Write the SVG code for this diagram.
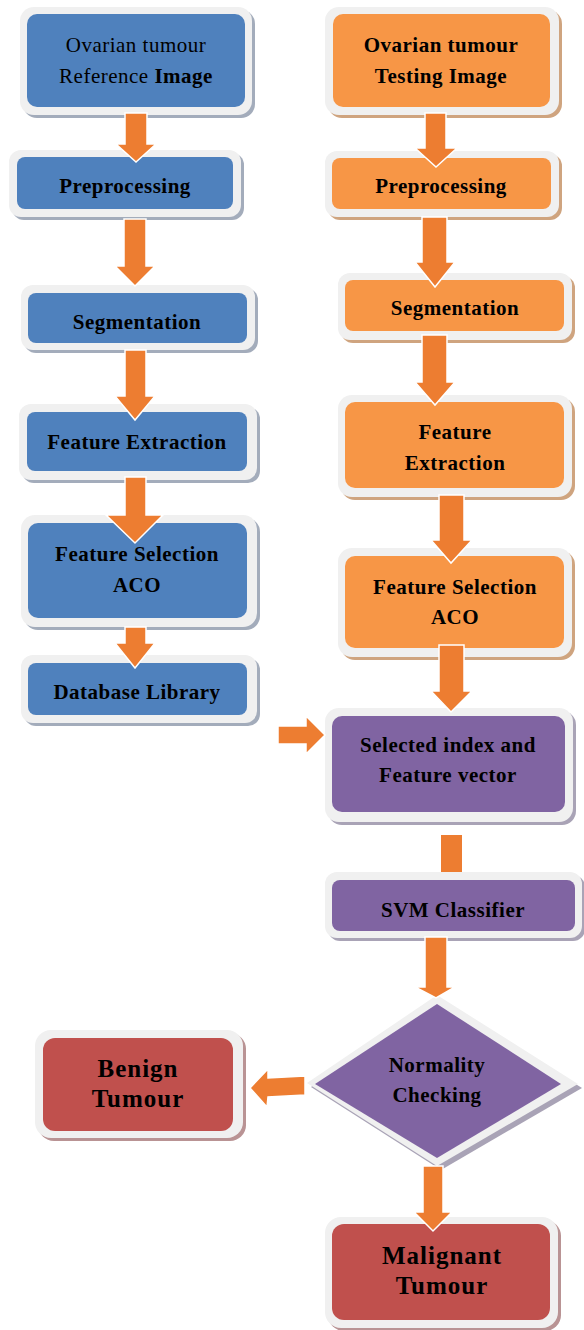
<svg xmlns="http://www.w3.org/2000/svg" width="584" height="1330" viewBox="0 0 584 1330">
<style>
.frame{fill:#f0f0f0}
.shb{fill:#a3acbb}
.sho{fill:#cfa47f}
.shp{fill:#a9a3b6}
.shr{fill:#b99394}
.blue{fill:#4f81bd}
.orange{fill:#f79646}
.purple{fill:#8064a2}
.red{fill:#c0504d}
.arr{fill:#ed7d31;stroke:#ffffff;stroke-width:1.5;stroke-linejoin:miter}
.bar{fill:#ed7d31}
text{font-family:"Liberation Serif","Times New Roman",serif;fill:#000;text-anchor:middle}
.t{font-size:21px;font-weight:bold;letter-spacing:0.5px}
.r{font-size:21px;font-weight:normal;letter-spacing:0.5px}
.big{font-size:25px;font-weight:bold;letter-spacing:1px}
</style>
<rect width="584" height="1330" fill="#ffffff"/>

<!-- Left column -->
<g id="ref-image">
<rect class="shb" x="23" y="10" width="232" height="108" rx="14"/>
<rect class="frame" x="20" y="7" width="232" height="108" rx="14"/>
<rect class="blue" x="27" y="14" width="218" height="93" rx="10"/>
<text class="r" x="136" y="52">Ovarian tumour</text>
<text class="r" x="136" y="83">Reference <tspan font-weight="bold">Image</tspan></text>
</g>
<g id="ref-preprocessing">
<rect class="shb" x="12" y="153" width="232" height="67" rx="12"/>
<rect class="frame" x="9" y="150" width="232" height="67" rx="12"/>
<rect class="blue" x="17" y="157" width="216" height="52" rx="8"/>
<text class="t" x="125" y="193">Preprocessing</text>
</g>
<g id="ref-segmentation">
<rect class="shb" x="24" y="288" width="234" height="65" rx="12"/>
<rect class="frame" x="21" y="285" width="234" height="65" rx="12"/>
<rect class="blue" x="28" y="293" width="219" height="50" rx="8"/>
<text class="t" x="137" y="329">Segmentation</text>
</g>
<g id="ref-feature-extraction">
<rect class="shb" x="22" y="407" width="238" height="76" rx="12"/>
<rect class="frame" x="19" y="404" width="238" height="76" rx="12"/>
<rect class="blue" x="27" y="412" width="220" height="59" rx="8"/>
<text class="t" x="137" y="449">Feature Extraction</text>
</g>
<g id="ref-feature-selection">
<rect class="shb" x="24" y="518" width="236" height="112" rx="14"/>
<rect class="frame" x="21" y="515" width="236" height="112" rx="14"/>
<rect class="blue" x="28" y="523" width="219" height="95" rx="10"/>
<text class="t" x="137" y="561">Feature Selection</text>
<text class="t" x="137" y="592">ACO</text>
</g>
<g id="ref-database">
<rect class="shb" x="24" y="658" width="236" height="68" rx="12"/>
<rect class="frame" x="21" y="655" width="236" height="68" rx="12"/>
<rect class="blue" x="28" y="663" width="219" height="52" rx="8"/>
<text class="t" x="137" y="699">Database Library</text>
</g>

<!-- Right column -->
<g id="test-image">
<rect class="sho" x="328" y="10" width="234" height="108" rx="14"/>
<rect class="frame" x="325" y="7" width="234" height="108" rx="14"/>
<rect class="orange" x="333" y="14" width="217" height="93" rx="10"/>
<text class="t" x="441" y="52">Ovarian tumour</text>
<text class="t" x="441" y="83">Testing Image</text>
</g>
<g id="test-preprocessing">
<rect class="sho" x="328" y="154" width="234" height="66" rx="12"/>
<rect class="frame" x="325" y="151" width="234" height="66" rx="12"/>
<rect class="orange" x="332" y="158" width="219" height="51" rx="8"/>
<text class="t" x="441" y="193">Preprocessing</text>
</g>
<g id="test-segmentation">
<rect class="sho" x="341" y="276" width="234" height="67" rx="12"/>
<rect class="frame" x="338" y="273" width="234" height="67" rx="12"/>
<rect class="orange" x="345" y="280" width="219" height="51" rx="8"/>
<text class="t" x="455" y="315">Segmentation</text>
</g>
<g id="test-feature-extraction">
<rect class="sho" x="341" y="398" width="234" height="102" rx="14"/>
<rect class="frame" x="338" y="395" width="234" height="102" rx="14"/>
<rect class="orange" x="345" y="402" width="219" height="86" rx="10"/>
<text class="t" x="455" y="439">Feature</text>
<text class="t" x="455" y="470">Extraction</text>
</g>
<g id="test-feature-selection">
<rect class="sho" x="341" y="551" width="234" height="109" rx="14"/>
<rect class="frame" x="338" y="548" width="234" height="109" rx="14"/>
<rect class="orange" x="345" y="556" width="219" height="92" rx="10"/>
<text class="t" x="455" y="594">Feature Selection</text>
<text class="t" x="455" y="624">ACO</text>
</g>
<g id="selected-index">
<rect class="shp" x="328" y="711" width="248" height="114" rx="14"/>
<rect class="frame" x="325" y="708" width="248" height="114" rx="14"/>
<rect class="purple" x="332" y="716" width="233" height="96" rx="10"/>
<text class="t" x="448" y="752">Selected index and</text>
<text class="t" x="448" y="782">Feature vector</text>
</g>
<g id="svm">
<rect class="shp" x="328" y="875" width="257" height="66" rx="12"/>
<rect class="frame" x="325" y="872" width="257" height="66" rx="12"/>
<rect class="purple" x="332" y="880" width="243" height="51" rx="8"/>
<text class="t" x="453" y="917">SVM Classifier</text>
</g>
<g id="normality">
<polygon class="shp" points="441,999 582,1088 441,1170 311,1087"/>
<polygon class="frame" points="437,995 578,1084 437,1166 307,1083"/>
<polygon class="purple" points="437,1004 561,1084 437,1158 315,1084"/>
<text class="t" x="437" y="1072">Normality</text>
<text class="t" x="437" y="1102">Checking</text>
</g>
<g id="benign">
<rect class="shr" x="38" y="1033" width="208" height="108" rx="16"/>
<rect class="frame" x="35" y="1030" width="208" height="108" rx="16"/>
<rect class="red" x="43" y="1038" width="190" height="93" rx="12"/>
<text class="big" x="138" y="1077">Benign</text>
<text class="big" x="138" y="1107">Tumour</text>
</g>
<g id="malignant">
<rect class="shr" x="328" y="1220" width="233" height="111" rx="16"/>
<rect class="frame" x="325" y="1217" width="233" height="111" rx="16"/>
<rect class="red" x="332" y="1224" width="218" height="96" rx="12"/>
<text class="big" x="442" y="1264">Malignant</text>
<text class="big" x="442" y="1294">Tumour</text>
</g>

<!-- Connectors -->
<g id="connectors">
<polygon class="arr" points="125,113 147,113 147,144 156,144 136,162 116,144 125,144"/>
<polygon class="arr" points="124,219 146,219 146,266 155,266 135,286 115,266 124,266"/>
<polygon class="arr" points="125,350 146,350 146,396 155,396 135,420 115,396 125,396"/>
<polygon class="arr" points="125,477 146,477 146,515 163,515 135,543 106,515 125,515"/>
<polygon class="arr" points="125,627 146,627 146,643 155,643 135,668 115,643 125,643"/>
<polygon class="arr" points="425,113 446,113 446,148 457,148 436,167 415,148 425,148"/>
<polygon class="arr" points="422,217 447,217 447,262 455,262 435,287 415,262 422,262"/>
<polygon class="arr" points="422,335 447,335 447,382 455,382 435,405 415,382 422,382"/>
<polygon class="arr" points="439,495 464,495 464,540 472,540 451,563 431,540 439,540"/>
<polygon class="arr" points="439,645 464,645 464,691 472,691 451,712 431,691 439,691"/>
<polygon class="arr" points="278,726 306,726 306,716 325,735 306,754 306,744 278,744"/>
<rect class="bar" x="441" y="835" width="21" height="37"/>
<polygon class="arr" points="425,937 447,937 447,987 455,987 436,998 415,987 425,987"/>
<polygon class="arr" points="305,1076 268,1078 268,1069 250,1088 267,1107 268,1097 305,1095"/>
<polygon class="arr" points="423,1166 443,1166 443,1212 452,1212 433,1231 414,1212 423,1212"/>
</g>
</svg>
